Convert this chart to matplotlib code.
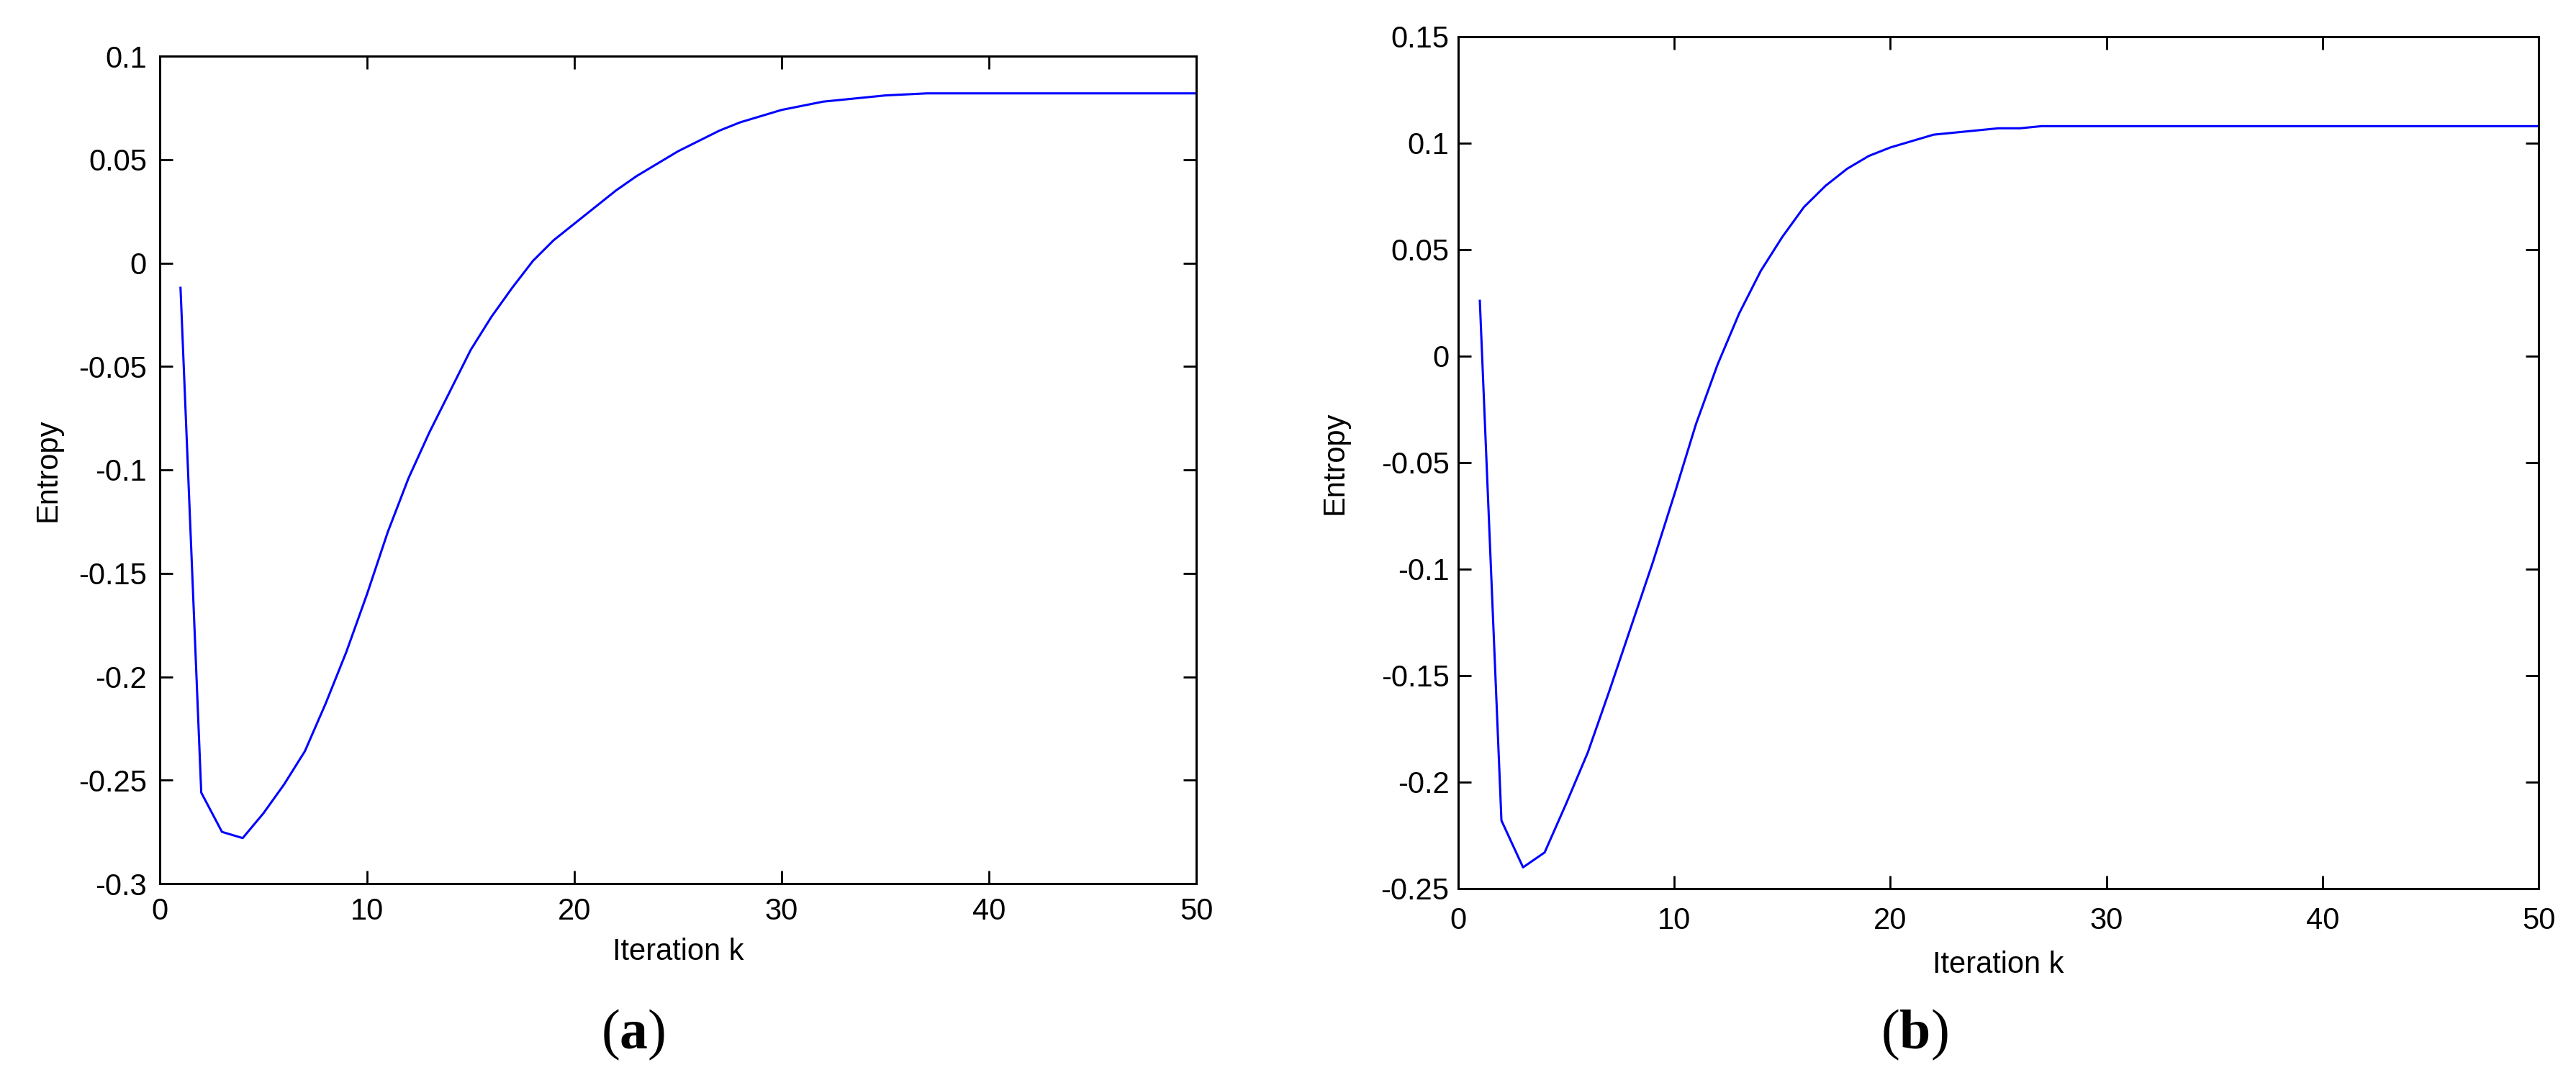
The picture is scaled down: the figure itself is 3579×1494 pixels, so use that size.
import matplotlib.pyplot as plt
from matplotlib.ticker import FuncFormatter
import numpy as np

plt.rcParams['font.family'] = ['Liberation Sans', 'DejaVu Sans']
plt.rcParams['mathtext.fontset'] = 'custom'
plt.rcParams['mathtext.rm'] = 'Liberation Serif'
plt.rcParams['mathtext.bf'] = 'Liberation Serif:bold'

# entropy per iteration
iters = np.arange(1, 51)
entropy_a = [-0.012, -0.256, -0.275, -0.278, -0.266, -0.252, -0.236, -0.213, -0.188, -0.160,
             -0.130, -0.104, -0.082, -0.062, -0.042, -0.026, -0.012, 0.001, 0.011, 0.019,
             0.027, 0.035, 0.042, 0.048, 0.054, 0.059, 0.064, 0.068, 0.071, 0.074,
             0.076, 0.078, 0.079, 0.080, 0.081, 0.0815, 0.082, 0.082, 0.082, 0.082,
             0.082, 0.082, 0.082, 0.082, 0.082, 0.082, 0.082, 0.082, 0.082, 0.082]
entropy_b = [0.026, -0.218, -0.240, -0.233, -0.210, -0.186, -0.157, -0.127, -0.097, -0.065,
             -0.032, -0.004, 0.020, 0.040, 0.056, 0.070, 0.080, 0.088, 0.094, 0.098,
             0.101, 0.104, 0.105, 0.106, 0.107, 0.107, 0.108, 0.108, 0.108, 0.108,
             0.108, 0.108, 0.108, 0.108, 0.108, 0.108, 0.108, 0.108, 0.108, 0.108,
             0.108, 0.108, 0.108, 0.108, 0.108, 0.108, 0.108, 0.108, 0.108, 0.108]

xticks = [0, 10, 20, 30, 40, 50]
yticks_a = [-0.3, -0.25, -0.2, -0.15, -0.1, -0.05, 0, 0.05, 0.1]
yticks_b = [-0.25, -0.2, -0.15, -0.1, -0.05, 0, 0.05, 0.1, 0.15]
panel_labels = [r'$(\mathbf{a})$', r'$(\mathbf{b})$']

W, H = 3579, 1494
fig = plt.figure(figsize=(W / 100, H / 100), dpi=100)

# axes boxes in pixels: left, top, right, bottom
boxes = [(222, 78, 1662, 1228), (2026, 51, 3527, 1235)]
fmt = FuncFormatter(lambda v, p: ('%g' % round(v, 3)).replace('-0', '-0') if abs(v) > 1e-9 else '0')

panels = [(entropy_a, yticks_a, 13.7, 13.0), (entropy_b, yticks_b, 18.0, 9.0)]
label_x = [880, 2660]
ylabel_x = [-0.108, -0.114]
xlabel_y = [1323, 1341]

for i, (box, (vals, yt, xpad, ypad)) in enumerate(zip(boxes, panels)):
    l, t, r, b = box
    ax = fig.add_axes([l / W, 1 - b / H, (r - l) / W, (b - t) / H])
    ax.plot(iters, vals, color='#0000ff', lw=2.2)
    ax.set_xlim(0, 50)
    ax.set_ylim(yt[0], yt[-1])
    ax.set_xticks(xticks)
    ax.set_yticks(yt)
    ax.yaxis.set_major_formatter(fmt)
    ax.tick_params(direction='in', top=True, right=True, length=13, width=2.0,
                   labelsize=30, colors='black')
    ax.tick_params(axis='x', pad=xpad)
    ax.tick_params(axis='y', pad=ypad)
    for s in ax.spines.values():
        s.set_linewidth(2.2)
    ax.set_ylabel('Entropy', fontsize=30, va='center')
    ax.yaxis.set_label_coords(ylabel_x[i], 0.5)
    ax.set_xlabel('Iteration k', fontsize=30, va='center')
    ax.xaxis.set_label_coords(0.5, 1 - (xlabel_y[i] - t) / (b - t))
    fig.text(label_x[i] / W, 1 - 1438 / H, panel_labels[i], fontsize=56,
             ha='center', va='center')

fig.savefig('out.png', dpi=100, facecolor='white')
